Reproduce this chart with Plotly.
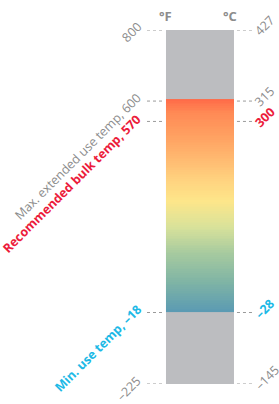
import numpy as np
import plotly.graph_objects as go

# ---- data ----
f_range = [-225, 800]          # °F scale extent
c_range = [-145, 427]          # °C scale extent
f_marks = [800, 600, 570, -18, -225]
c_marks = [427, 315, 300, -28, -145]
left_labels = ["800", "Max. extended use temp, 600", "Recommended bulk temp, 570",
               "Min. use temp, \u201318", "\u2013225"]
right_labels = ["427", "315", "300", "\u201328", "\u2013145"]
use_range = [-18, 600]         # gradient (usable) range °F

# ---- styles ----
GRAY_T = "#8c8c8c"
RED = "#ec1c3b"
CYAN = "#1cb9e6"
styles = [(GRAY_T, False), (GRAY_T, False), (RED, True), (CYAN, True), (GRAY_T, False)]
pix_shift = [0, -2, -12, 0, 0]   # small legibility offsets, px
FONT = "Open Sans"

fig = go.Figure()

# gradient band
n = 120
edges = np.linspace(use_range[0], use_range[1], n + 1)
centers = (edges[:-1] + edges[1:]) / 2
z = [[c] for c in centers]
colorscale = [[0, "#5a9ab3"], [0.14, "#7fb4a5"], [0.28, "#a8cb9f"], [0.40, "#d9e29a"],
              [0.52, "#fde68a"], [0.62, "#ffd27f"], [0.79, "#ffa866"], [0.934, "#ff8a55"],
              [1, "#ff6a48"]]
fig.add_trace(go.Heatmap(x=[0, 1], y=edges, z=z, colorscale=colorscale,
                         zmin=use_range[0], zmax=use_range[1], showscale=False,
                         hoverinfo="skip"))

shapes = [dict(type="rect", xref="x", yref="y", x0=0, x1=1, y0=f_range[0], y1=f_range[1],
               fillcolor="#bcbdc0", line=dict(width=0), layer="below")]
annotations = []
for fv, cv, ll, rl, (col, bold), sh in zip(f_marks, c_marks, left_labels, right_labels, styles, pix_shift):
    for x0, x1 in [(-0.279, -0.044), (1.044, 1.279)]:
        shapes.append(dict(type="line", xref="x", yref="y", ysizemode="pixel", yanchor=fv,
                           x0=x0, x1=x1, y0=sh, y1=sh,
                           line=dict(color="#9a9a9a", width=1, dash="dot")))
    txt_l = f"<b>{ll}</b>" if bold else ll
    txt_r = f"<b>{rl}</b>" if bold else rl
    annotations.append(dict(x=-0.3, y=fv, xref="x", yref="y", text=txt_l, showarrow=False,
                            textangle=-45, xanchor="right", yanchor="top", yshift=sh + 14,
                            xshift=2, font=dict(family=FONT, size=12.5, color=col)))
    annotations.append(dict(x=1.3, y=fv, xref="x", yref="y", text=txt_r, showarrow=False,
                            textangle=-45, xanchor="left", yanchor="bottom", yshift=sh - 12,
                            xshift=-6, font=dict(family=FONT, size=12.5, color=col)))

annotations.append(dict(x=0, y=f_range[1], xref="x", yref="y", text="<b>°F</b>", showarrow=False,
                        yshift=14, font=dict(family=FONT, size=13, color=GRAY_T)))
annotations.append(dict(x=0.94, y=f_range[1], xref="x", yref="y", text="<b>°C</b>", showarrow=False,
                        yshift=14, font=dict(family=FONT, size=13, color=GRAY_T)))

fig.update_layout(
    width=279, height=404,
    margin=dict(l=0, r=0, t=30, b=20, pad=0),
    paper_bgcolor="white", plot_bgcolor="white",
    xaxis=dict(range=[-2.441, 1.662], visible=False, fixedrange=True),
    yaxis=dict(range=f_range, visible=False, fixedrange=True),
    shapes=shapes, annotations=annotations, showlegend=False,
)
fig.write_html("out.html", config={"displayModeBar": False},
               post_script="document.body.style.margin='0';")
